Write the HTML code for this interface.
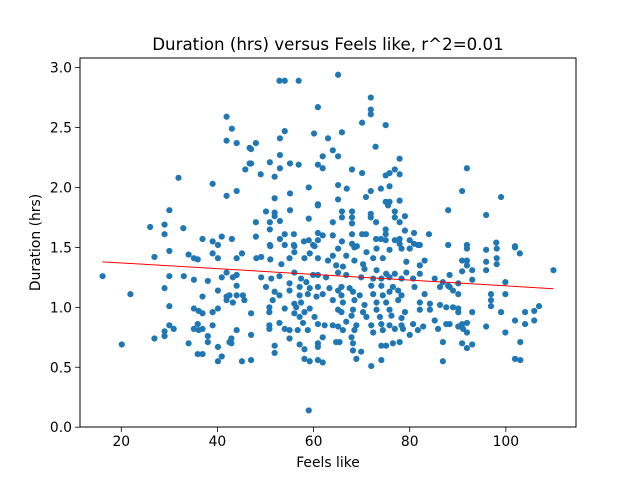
<!DOCTYPE html>
<html><head><meta charset="utf-8"><style>
body{margin:0;background:#fff;}
svg{display:block;font-family:"DejaVu Sans","Liberation Sans",sans-serif;}
</style></head><body>
<svg id="chart" width="640" height="480" viewBox="0 0 640 480" xmlns="http://www.w3.org/2000/svg">
<rect x="0" y="0" width="640" height="480" fill="#fff"/>
<text x="328" y="50" text-anchor="middle" font-size="16.67">Duration (hrs) versus Feels like, r^2=0.01</text>
<g id="ticks"></g>
<g id="points"></g>
<g id="fit"></g>
<rect x="80" y="58" width="496" height="369" fill="none" stroke="#000" stroke-width="1"/>
<text x="328" y="467" text-anchor="middle" font-size="13.89">Feels like</text>
<text x="0" y="0" transform="translate(40,242.5) rotate(-90)" text-anchor="middle" font-size="13.89">Duration (hrs)</text>
</svg>
<script>
const feelsLike = [41.9,43.0,41.9,44.0,46.7,46.7,45.8,31.9,39.0,41.9,44.0,30.0,26.0,29.0,29.0,32.9,36.9,39.0,40.1,40.9,43.0,
65.1,52.9,54.0,56.9,71.9,60.9,71.9,71.9,70.1,75.0,54.0,60.1,65.9,63.0,53.0,48.0,47.0,72.9,64.0,65.1,61.9,53.0,77.9,47.0,50.9,53.0,55.1,56.9,60.9,61.9,68.0,70.1,75.0,76.9,77.9,75.8,49.0,51.9,59.0,65.1,66.9,74.0,75.8,71.9,70.9,55.1,51.9,65.1,60.9,60.9,75.0,75.8,75.5,77.9,55.1,50.1,51.9,51.9,65.9,68.0,71.9,71.9,76.9,76.9,79.0,77.9,59.0,65.9,68.0,68.0,73.0,48.0,50.9,53.0,50.9,64.0,79.0,80.9,75.0,75.0,48.0,54.0,55.9,60.9,61.9,64.0,68.0,70.1,70.9,73.0,74.0,75.0,76.9,77.9,80.0,53.0,50.9,54.0,55.9,58.0,59.0,60.9,59.9,65.9,68.0,69.0,77.9,80.9,81.7,
91.9,90.9,99.0,88.0,95.9,84.0,82.1,88.0,91.9,98.0,101.9,
30.0,26.9,34.0,35.1,35.9,39.0,40.1,16.1,30.0,33.0,35.1,38.0,40.9,41.9,29.0,21.9,40.1,36.9,41.9,41.9,30.0,35.1,36.1,36.9,39.0,40.1,30.0,29.0,30.9,29.0,35.1,35.9,36.1,36.9,39.0,26.9,20.1,34.0,38.0,38.0,40.1,35.9,36.9,40.9,40.1,42.5,
45.1,44.0,48.1,49.1,51.0,51.0,56.0,53.3,55.0,56.0,58.1,59.2,60.2,60.9,63.0,64.0,65.1,64.7,43.2,44.0,49.1,51.2,52.9,56.0,57.4,58.5,59.9,60.9,62.6,65.1,44.0,50.1,55.0,57.1,59.2,60.9,63.3,65.1,42.5,44.0,45.3,45.6,43.2,51.9,52.9,55.0,57.1,58.8,60.6,61.9,64.0,56.0,57.4,51.5,50.8,54.0,56.4,59.2,65.1,47.0,50.8,56.0,58.1,60.2,57.1,52.9,57.8,60.9,62.3,64.0,65.1,50.8,50.8,54.0,55.0,56.7,58.8,44.0,47.0,61.9,55.0,42.9,42.9,60.9,60.9,64.7,57.1,58.1,51.9,51.9,45.1,47.0,58.1,59.2,60.9,61.9,59.0,
68.5,71.0,73.1,75.8,78.3,80.0,66.8,68.5,70.3,72.4,74.4,79.3,83.1,66.1,70.6,73.1,75.1,76.9,79.3,82.1,82.1,66.8,69.9,72.4,74.1,75.8,78.3,80.7,85.2,86.9,88.0,65.8,67.5,72.0,74.1,76.5,77.6,81.0,86.3,65.8,68.2,69.6,72.4,74.4,75.8,78.3,83.1,66.1,68.5,70.6,73.1,75.1,77.6,82.1,84.2,86.3,87.6,65.8,68.2,70.3,73.1,75.8,79.0,82.1,84.2,67.9,71.0,73.8,76.2,78.3,85.2,66.8,68.9,72.0,74.1,75.8,78.3,80.7,82.8,87.6,66.1,68.5,72.4,74.4,76.9,78.6,81.7,85.9,80.0,67.9,65.4,68.2,74.1,75.1,76.5,77.9,86.9,68.2,69.9,68.9,74.1,72.0,86.9,
91.9,95.9,98.1,101.9,102.9,90.9,91.9,91.9,95.9,98.1,98.1,90.9,93.0,95.9,109.9,93.0,88.3,90.1,99.9,88.3,89.0,90.1,96.9,99.9,96.9,96.9,89.0,90.1,90.1,93.0,99.0,104.0,105.9,106.9,88.3,90.1,90.9,91.9,91.1,91.9,95.9,101.9,104.0,105.9,99.9,90.9,91.9,93.0,103.0,101.9,103.0];
const durationHrs = [2.59,2.49,2.39,2.37,2.33,2.20,2.15,2.08,2.03,1.93,1.97,1.81,1.67,1.69,1.61,1.66,1.57,1.55,1.52,1.59,1.57,
2.94,2.89,2.89,2.89,2.75,2.67,2.65,2.61,2.54,2.52,2.47,2.45,2.46,2.41,2.41,2.37,2.32,2.34,2.31,2.26,2.26,2.27,2.24,2.20,2.21,2.16,2.20,2.19,2.19,2.16,2.15,2.12,2.10,2.15,2.11,2.12,2.11,2.09,2.00,2.02,1.99,1.99,2.01,1.97,1.92,1.95,1.91,1.90,1.86,1.85,1.88,1.88,1.85,1.89,1.81,1.80,1.79,1.76,1.80,1.80,1.78,1.75,1.80,1.75,1.76,1.71,1.74,1.75,1.75,1.70,1.71,1.71,1.71,1.72,1.65,1.71,1.64,1.62,1.65,1.61,1.59,1.61,1.61,1.62,1.60,1.60,1.61,1.61,1.61,1.57,1.57,1.56,1.56,1.57,1.56,1.57,1.52,1.52,1.52,1.55,1.56,1.56,1.52,1.55,1.53,1.51,1.53,1.53,1.52,
2.16,1.97,1.92,1.81,1.77,1.61,1.52,1.52,1.52,1.54,1.51,
1.47,1.42,1.44,1.41,1.40,1.45,1.41,1.26,1.26,1.26,1.23,1.22,1.25,1.29,1.16,1.11,1.14,1.09,1.09,1.06,1.01,0.99,0.97,0.95,0.96,0.99,0.85,0.80,0.82,0.76,0.82,0.86,0.81,0.82,0.85,0.74,0.69,0.70,0.76,0.71,0.67,0.61,0.61,0.59,0.55,0.71,
1.45,1.41,1.41,1.42,1.40,1.51,1.51,1.36,1.41,1.46,1.41,1.45,1.51,1.41,1.39,1.43,1.49,1.35,1.25,1.27,1.25,1.24,1.26,1.29,1.24,1.21,1.27,1.27,1.25,1.29,1.18,1.17,1.20,1.17,1.16,1.17,1.16,1.14,1.10,1.10,1.10,1.06,1.04,1.13,1.10,1.14,1.10,1.11,1.09,1.11,1.06,1.03,1.04,1.06,1.00,0.99,1.00,0.99,0.98,0.95,0.96,0.95,0.96,0.92,0.92,0.87,0.87,0.86,0.85,0.85,0.84,0.85,0.82,0.82,0.81,0.81,0.81,0.81,0.77,0.75,0.74,0.74,0.70,0.70,0.67,0.71,0.69,0.65,0.68,0.62,0.55,0.56,0.57,0.55,0.56,0.54,0.14,
1.50,1.46,1.49,1.48,1.49,1.49,1.43,1.39,1.36,1.41,1.41,1.38,1.39,1.34,1.32,1.31,1.28,1.28,1.29,1.35,1.28,1.27,1.25,1.24,1.24,1.25,1.24,1.24,1.24,1.21,1.18,1.17,1.16,1.18,1.18,1.17,1.14,1.17,1.17,1.10,1.13,1.10,1.11,1.10,1.13,1.10,1.11,1.04,1.06,1.02,1.04,1.04,1.06,1.04,1.03,1.02,1.00,0.96,0.98,0.96,0.98,0.98,0.96,0.98,0.98,0.93,0.92,0.92,0.93,0.91,0.89,0.88,0.85,0.85,0.86,0.85,0.85,0.86,0.84,0.86,0.81,0.81,0.79,0.81,0.82,0.82,0.81,0.82,0.77,0.75,0.71,0.70,0.68,0.68,0.70,0.71,0.71,0.64,0.63,0.57,0.56,0.51,0.55,
1.49,1.48,1.49,1.50,1.45,1.39,1.39,1.35,1.38,1.41,1.36,1.30,1.31,1.31,1.31,1.23,1.27,1.20,1.21,1.17,1.14,1.11,1.11,1.11,1.06,1.01,1.00,0.99,0.96,0.96,0.96,0.96,0.97,1.01,0.86,0.84,0.86,0.87,0.82,0.79,0.84,0.89,0.86,0.89,0.79,0.70,0.66,0.69,0.71,0.57,0.56];
// regression coefficients
const fitIntercept = [1.418];
const fitSlope = [-0.00239];
const xTickValues = [20,40,60,80,100];
const yTickValues = [0.0,0.5,1.0,1.5,2.0,2.5,3.0];
const yTickLabels = ["0.0","0.5","1.0","1.5","2.0","2.5","3.0"];

const NS="http://www.w3.org/2000/svg";
const L=80,R=576,T=58,B=427.2;
const xmin=Math.min(...feelsLike),xmax=Math.max(...feelsLike);
const ymin=Math.min(...durationHrs),ymax=Math.max(...durationHrs);
const xlo=xmin-0.05*(xmax-xmin),xhi=xmax+0.05*(xmax-xmin);
const ylo=ymin-0.05*(ymax-ymin),yhi=ymax+0.05*(ymax-ymin);
function xs(v){return L+(v-xlo)/(xhi-xlo)*(R-L);}
function ys(v){return B-(v-ylo)/(yhi-ylo)*(B-T);}
function mk(tag,attrs){const e=document.createElementNS(NS,tag);for(const k in attrs)e.setAttribute(k,attrs[k]);return e;}

const tg=document.getElementById('ticks');
xTickValues.forEach(v=>{
  const x=xs(v);
  const ln=mk('line',{x1:x,x2:x,y1:B,y2:B+4.9,stroke:'#000','stroke-width':0.8});
  
  
  tg.appendChild(ln);
  const t=mk('text',{x:x,y:B+19,'text-anchor':'middle','font-size':13.89});
  
  
  t.textContent=String(v);tg.appendChild(t);
});
yTickValues.forEach((v,i)=>{
  const y=ys(v);
  const ln=mk('line',{x1:L-4.9,x2:L,y1:y,y2:y,stroke:'#000','stroke-width':0.8});
  
  
  tg.appendChild(ln);
  const t=mk('text',{x:L-8,y:y+5,'text-anchor':'end','font-size':13.89});
  
  
  t.textContent=yTickLabels[i];tg.appendChild(t);
});

const pg=document.getElementById('points');
feelsLike.forEach((xv,i)=>{
  const c=mk('circle',{cx:xs(xv),cy:ys(durationHrs[i]),r:3.1,fill:'#1f77b4'});
  
  
  pg.appendChild(c);
});

const a=fitIntercept[0],b=fitSlope[0];
const fl=mk('line',{x1:xs(xmin),y1:ys(a+b*xmin),x2:xs(xmax),y2:ys(a+b*xmax),stroke:'#ff0000','stroke-width':1});


document.getElementById('fit').appendChild(fl);
</script>
</body></html>
